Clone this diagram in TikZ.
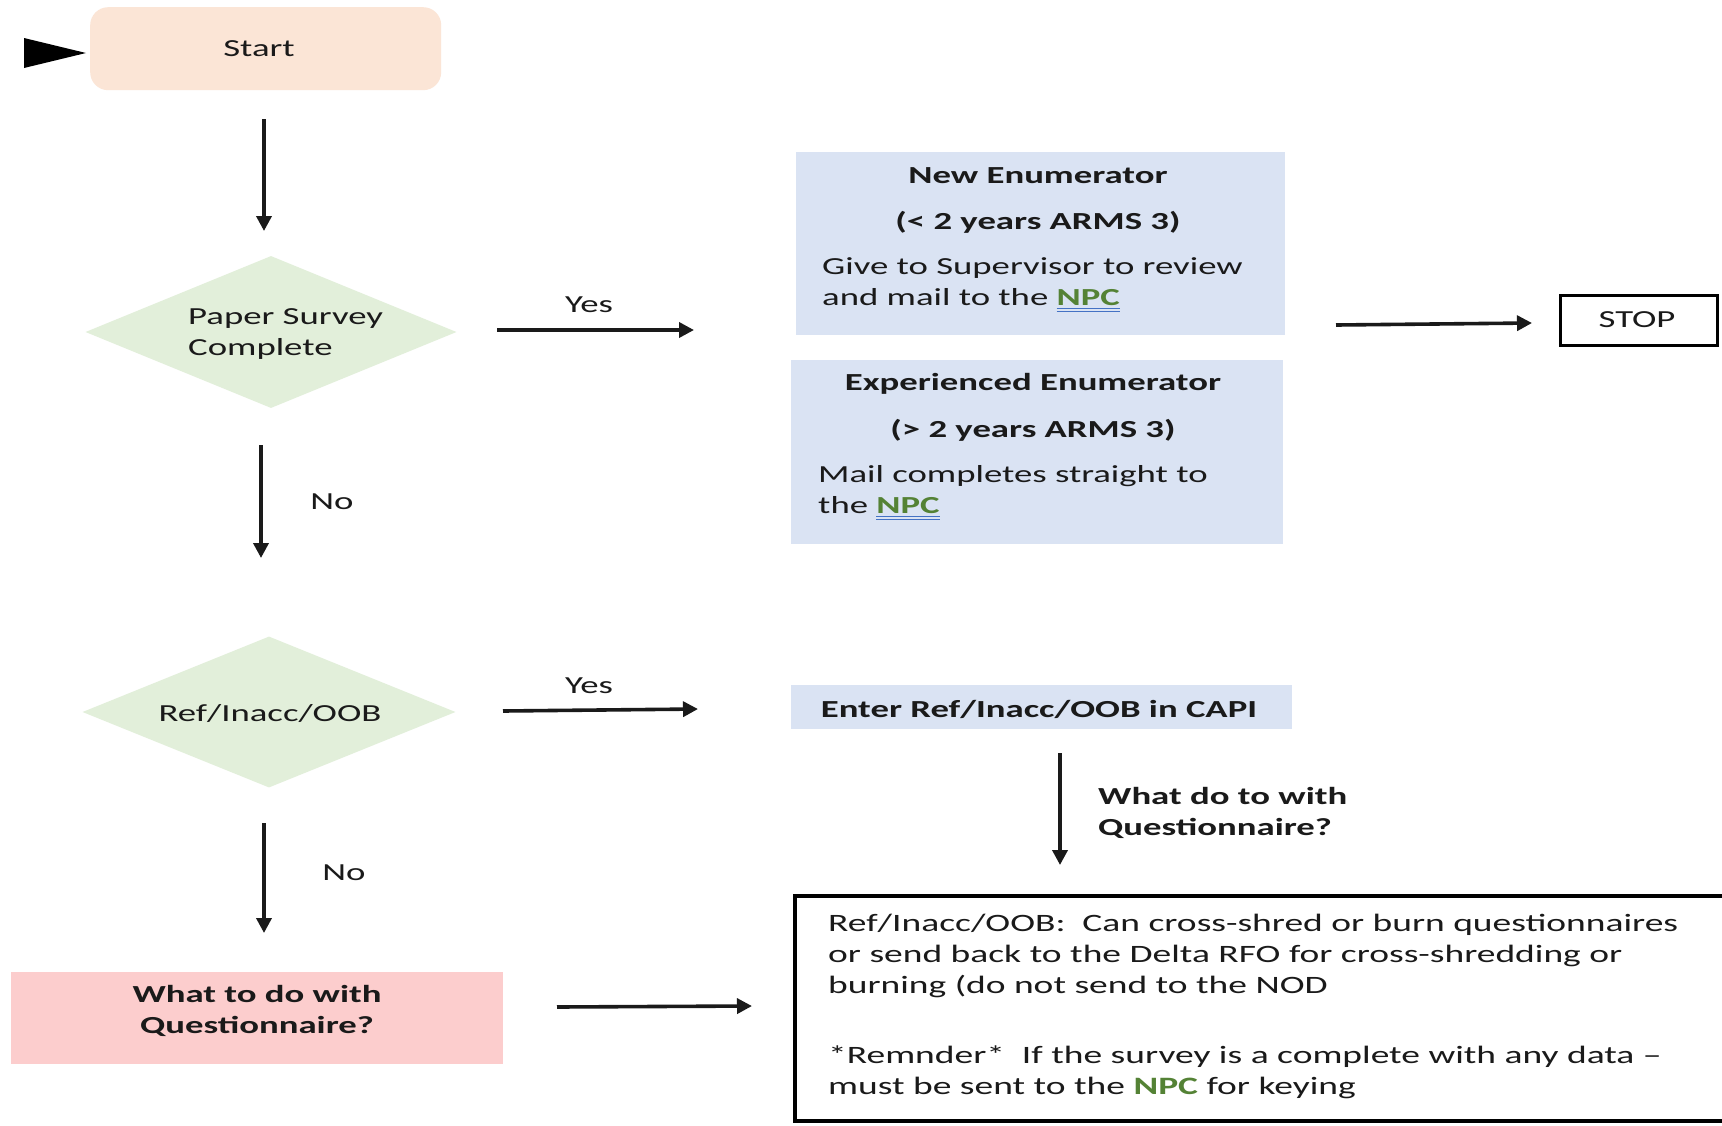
\documentclass[tikz,border=0pt]{standalone}
\usepackage{fontspec}
\setmainfont{Carlito}[FakeStretch=1.5]
\usetikzlibrary{arrows.meta,shapes.geometric}
\definecolor{peach}{HTML}{FBE5D6}
\definecolor{dgreen}{HTML}{E2EFDA}
\definecolor{lblue}{HTML}{DAE3F3}
\definecolor{lpink}{HTML}{FCCDCD}
\definecolor{npcgreen}{HTML}{548235}
\definecolor{ulblue}{HTML}{4472C4}
\definecolor{ink}{HTML}{1A1A1A}
\newsavebox\npcbox
\newcommand\npcul{\sbox\npcbox{\textcolor{npcgreen}{\bfseries NPC}}\makebox[0pt][l]{\textcolor{ulblue}{\rule[-4pt]{\wd\npcbox}{1.3pt}}}\makebox[0pt][l]{\textcolor{ulblue}{\rule[-7pt]{\wd\npcbox}{1.3pt}}}\usebox\npcbox}
\newcommand\npcg{\textcolor{npcgreen}{\bfseries NPC}}
\begin{document}
\begin{tikzpicture}[x=1pt,y=-1pt,
  txt/.style={font=\fontsize{24.5}{30.5}\selectfont, inner sep=0pt, text=ink},
  btxt/.style={txt, font=\fontsize{24.5}{30.5}\selectfont\bfseries},
  ltxt/.style={txt, font=\fontsize{25}{31}\selectfont},
  arr/.style={line width=3.6pt, draw=ink, -{Triangle[length=15pt,width=15pt]}},
  fbox/.style={draw=none, inner sep=0pt, anchor=north west}]
\useasboundingbox (0,0) rectangle (1722,1125);
\fill[white] (0,0) rectangle (1722,1125);

% Start
\node[fbox, fill=peach, rounded corners=18pt, minimum width=351, minimum height=83] (start) at (90,7) {};
\node[txt] (starttxt) at (259,49) {Start};
\fill[black] (24,38) -- (86,53) -- (24,68) -- cycle;

% Diamond 1
\node[diamond, fill=dgreen, inner sep=0pt, minimum width=371, minimum height=152] (d1) at (271,332) {};
\node[txt, align=left, anchor=west] (d1txt) at (188,334) {Paper Survey\\Complete};

% New enumerator box
\node[fbox, fill=lblue, minimum width=489, minimum height=183] (newb) at (796,152) {};
\node[btxt] (newt1) at (1038,176) {New Enumerator};
\node[btxt] (newt2) at (1038,222) {(< 2 years ARMS 3)};
\node[txt, align=left, anchor=west] (newbody) at (822,285) {Give to Supervisor to review\\and mail to the \npcul};

% Experienced enumerator box
\node[fbox, fill=lblue, minimum width=492, minimum height=184] (expb) at (791,360) {};
\node[btxt] (expt1) at (1033,384) {Experienced Enumerator};
\node[btxt] (expt2) at (1033,430) {(> 2 years ARMS 3)};
\node[txt, align=left, anchor=west] (expbody) at (818,493) {Mail completes straight to\\the \npcul};

% STOP
\node[fbox, draw=black, line width=3pt, minimum width=157, minimum height=50] (stop) at (1559,294) {};
\node[txt] (stoptxt) at (1637,320) {STOP};

% Diamond 2
\node[diamond, fill=dgreen, inner sep=0pt, minimum width=373, minimum height=151] (d2) at (269,712) {};
\node[txt] (d2txt) at (270,714) {Ref/Inacc/OOB};

% Enter box
\node[fbox, fill=lblue, minimum width=501, minimum height=44] (enter) at (791,685) {};
\node[btxt] (entertxt) at (1039,709) {Enter Ref/Inacc/OOB in CAPI};

% Pink box
\node[fbox, fill=lpink, minimum width=492, minimum height=92] (pink) at (11,972) {};
\node[btxt, align=center] (pinktxt) at (257,1011) {What to do with\\Questionnaire?};

% Big box
\begin{scope}
\clip (0,0) rectangle (1722,1125);
\draw[line width=4pt, draw=black] (795,896) rectangle (1760,1121);
\end{scope}
\node[ltxt, align=left, anchor=west] (bigp1) at (828,956) {Ref/Inacc/OOB:\ \ Can cross-shred or burn questionnaires\\or send back to the Delta RFO for cross-shredding or\\burning (do not send to the NOD};
\node[ltxt, align=left, anchor=west] (bigp2) at (828,1072) {*Remnder*\ \ If the survey is a complete with any data --\\must be sent to the \npcg\ for keying};

% Connectors
\coordinate (a1s) at (264,119); \coordinate (a1e) at (264,231);
\draw[arr] (a1s) -- (a1e);
\coordinate (y1s) at (497,330); \coordinate (y1e) at (694,330);
\draw[arr] (y1s) -- (y1e);
\node[txt] (yes1) at (589,305) {Yes};
\coordinate (s1s) at (1336,325); \coordinate (s1e) at (1532,323);
\draw[arr] (s1s) -- (s1e);
\coordinate (n1s) at (261,445); \coordinate (n1e) at (261,558);
\draw[arr] (n1s) -- (n1e);
\node[txt] (no1) at (332,502) {No};
\coordinate (y2s) at (503,711); \coordinate (y2e) at (698,709);
\draw[arr] (y2s) -- (y2e);
\node[txt] (yes2) at (589,686) {Yes};
\coordinate (q1s) at (1060,753); \coordinate (q1e) at (1060,865);
\draw[arr] (q1s) -- (q1e);
\node[btxt, align=left, anchor=west] (qlab) at (1098,813) {What do to with\\Questionnaire?};
\coordinate (n2s) at (264,823); \coordinate (n2e) at (264,933);
\draw[arr] (n2s) -- (n2e);
\node[txt] (no2) at (344,873) {No};
\coordinate (p1s) at (557,1007); \coordinate (p1e) at (752,1006);
\draw[arr] (p1s) -- (p1e);
\end{tikzpicture}
\end{document}
